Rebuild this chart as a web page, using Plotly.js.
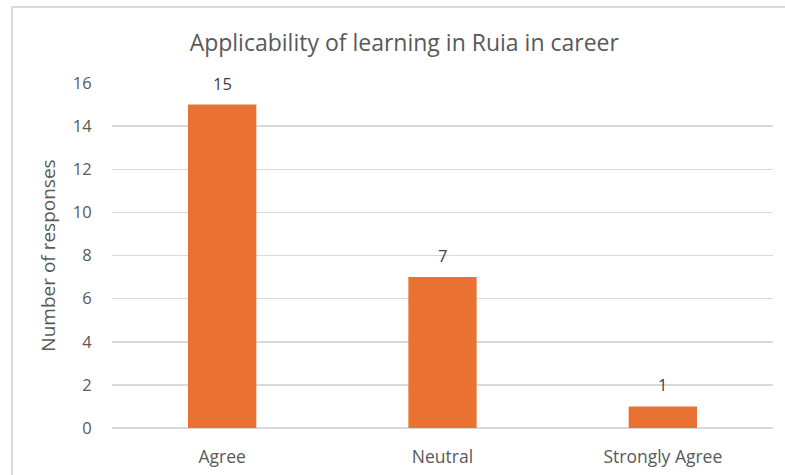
<!DOCTYPE html>
<html>
<head>
<meta charset="utf-8">
<script src="https://cdn.plot.ly/plotly-3.0.1.min.js"></script>
<style>html,body{margin:0;padding:0;background:#fff;}#chart{width:785px;height:475px;}</style>
</head>
<body>
<div id="chart"></div>
<script>
const categories = ["Agree", "Neutral", "Strongly Agree"];
const responses = [15, 7, 1];
const yTicks = [0, 2, 4, 6, 8, 10, 12, 14, 16];

const font = "'Open Sans', Roboto, sans-serif";

const trace = {
  type: "bar",
  x: categories,
  y: responses,
  marker: {color: "#E97132"},
  width: 0.31,
  cliponaxis: false,
  hoverinfo: "x+y"
};

const labelAnnotations = categories.map((c, i) => ({
  x: c,
  y: responses[i],
  xref: "x",
  yref: "y",
  text: String(responses[i]),
  showarrow: false,
  xanchor: "center",
  yanchor: "bottom",
  yshift: 8,
  font: {family: font, size: 16.5, color: "#404040"}
}));

const layout = {
  width: 785,
  height: 475,
  margin: {l: 112, r: 12, t: 83, b: 47},
  paper_bgcolor: "#ffffff",
  plot_bgcolor: "#ffffff",
  showlegend: false,
  bargap: 0.69,
  title: {
    text: "Applicability of learning in Ruia in career",
    font: {family: font, size: 23, color: "#595959"},
    x: 0.515, xanchor: "center",
    y: 0.91, yanchor: "middle"
  },
  xaxis: {
    type: "category",
    tickfont: {family: font, size: 17.5, color: "#595959"},
    showgrid: false,
    zeroline: false,
    showline: false,
    ticks: "outside",
    ticklen: 13,
    tickcolor: "rgba(0,0,0,0)",
    automargin: false
  },
  yaxis: {
    range: [0, 16],
    tickvals: yTicks,
    ticktext: yTicks.map(String),
    tickfont: {family: font, size: 16.5, color: "#595959"},
    showgrid: true,
    gridcolor: "#d9d9d9",
    gridwidth: 1.5,
    zeroline: true,
    zerolinecolor: "#d9d9d9",
    zerolinewidth: 1.5,
    showline: false,
    ticks: "outside",
    ticklen: 16,
    tickcolor: "rgba(0,0,0,0)",
    automargin: false,
    title: {
      text: "Number of responses",
      font: {family: font, size: 19, color: "#595959"},
      standoff: 12
    }
  },
  annotations: labelAnnotations,
  shapes: [{
    type: "rect",
    xref: "paper", yref: "paper",
    x0: -0.1513, x1: 1.03,
    y0: -0.16, y1: 1.2203,
    line: {color: "#d9d9d9", width: 2},
    fillcolor: "rgba(0,0,0,0)",
    layer: "below"
  }]
};

Plotly.newPlot("chart", [trace], layout, {displayModeBar: false, staticPlot: true});
</script>
</body>
</html>
